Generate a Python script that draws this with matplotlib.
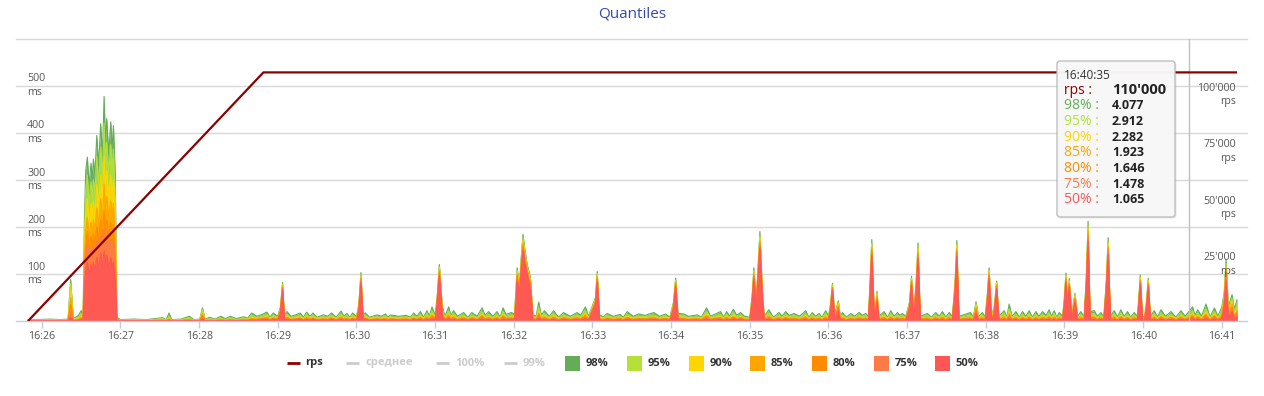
import matplotlib
matplotlib.use("Agg")
import matplotlib.pyplot as plt
from matplotlib.patches import FancyBboxPatch, Rectangle

plt.rcParams['font.family'] = ['Open Sans', 'DejaVu Sans']

# ---------------- data ----------------
# time in seconds after 16:26:00
t_sec = [
    -10.5, -2, 6, 14, 20, 22, 24, 28, 30, 31.5,
    32.5, 33.5, 34.7, 36, 37.5, 38.5, 39.3, 40.5, 41.9, 43.3, 44.9, 46.2, 47.5, 48.5, 49.5, 51, 52.6, 53.6, 54.6, 56,
    57.2, 60, 70, 80, 92, 95, 97, 99, 106, 112.6, 116, 120.5, 122.5, 124.5, 128, 132, 136.5, 140, 144, 148,
    154, 157, 160, 164, 168, 171.7, 174, 176.5, 180, 182, 183.6, 185, 187, 190, 193.5, 197, 199.5, 202, 204.5, 206.8,
    210, 214.7, 218, 221, 224.5, 228.2, 230.5, 232.7, 235, 237, 240, 241.8, 243.4, 245, 246.7, 250, 255.6, 259, 262, 264,
    265.8, 272, 278, 281, 283.6, 286, 288.7, 291, 293.8, 295.5, 297.6, 300, 301.5, 303.2, 305.5, 307.5, 310.3, 312, 314, 317,
    321.7, 325, 328, 332, 335.8, 338, 340.8, 344, 347.2, 349.5, 351.8, 354, 358, 360.5, 361.5, 362.5, 364.3, 365.5, 367, 368.5,
    370.2, 372.7, 374.5, 377, 379, 381, 383.3, 387, 390.4, 394, 398, 403, 408.3, 411, 414.6, 417, 422.3, 423.6, 425.3, 428,
    431.2, 436, 441, 443.5, 446.5, 451, 455.3, 460, 466.8, 471, 475.7, 479, 481.8, 483.4, 485.2, 489.7, 493, 500, 503, 507,
    510, 513, 517.7, 520, 522.3, 524.5, 527.4, 530, 533, 536, 540, 541.8, 543.1, 544.8, 546.2, 547.7, 549.5, 551, 554.5, 558,
    562.2, 564.5, 567.3, 570, 573.7, 578, 582.6, 585, 587.7, 590, 592.8, 595, 597.9, 600, 601.5, 603, 604.8, 607.5, 609, 610.6,
    613.5, 617, 620, 623.3, 626, 628.4, 630.5, 631.7, 633, 634.5, 635.7, 637, 638.5, 642.4, 645, 647.5, 650, 652.6, 654.5, 656.4,
    659, 661.8, 663.3, 665, 666.8, 668.3, 670, 675.5, 678.5, 681.8, 684.5, 686.9, 689.5, 692, 694.5, 696.5, 697.9, 699.5, 704, 708.2,
    710.5, 712.5, 714.5, 717.4, 719.5, 721, 722.5, 724, 725.5, 726.8, 728.2, 730, 734, 736, 737.8, 740, 742.9, 745.5, 748, 750.5,
    753.1, 755.5, 758.2, 760.5, 763.3, 766, 768.3, 770, 772.2, 774, 776, 778.5, 779.8, 781.1, 782.3, 783.6, 785.5, 788, 790, 792.5,
    795, 796.6, 798, 799.5, 802.7, 805, 807.8, 810, 811.8, 813.3, 815, 817.9, 820.5, 823, 825.5, 828.1, 830.5, 833.2, 835.5, 836.5,
    837.8, 839.5, 841, 842.5, 843.9, 845.5, 848.5, 851, 853.6, 857, 861.2, 865, 868.8, 872, 877.7, 879.5, 881.6, 884.5, 887.9, 891,
    894.3, 897, 900, 901.8, 903.2, 905, 907.8, 909.5, 911.6,
]

q98 = [
    2, 3, 4, 3, 4, 88, 5, 12, 22, 15,
    220, 320, 348, 290, 335, 300, 344, 310, 394, 330, 419, 350, 477, 380, 430, 355, 423, 365, 415, 310,
    8, 3, 4, 3, 7, 3, 17, 3, 4, 10, 3, 4, 28, 4, 8, 4, 10, 5, 10, 5,
    9, 6, 17, 10, 14, 19, 8, 17, 10, 30, 82, 14, 20, 10, 13, 17, 8, 19, 10, 17,
    8, 13, 10, 17, 8, 21, 10, 16, 8, 17, 10, 35, 103, 14, 17, 8, 13, 10, 15, 8,
    13, 10, 12, 8, 17, 10, 20, 8, 22, 10, 30, 12, 50, 120, 30, 10, 30, 12, 22, 10,
    18, 8, 18, 10, 28, 12, 20, 10, 20, 8, 28, 14, 18, 15, 60, 113, 75, 130, 184, 150,
    120, 92, 14, 10, 40, 12, 22, 10, 22, 8, 18, 10, 18, 12, 30, 10, 50, 105, 14, 8,
    16, 10, 14, 8, 20, 10, 15, 12, 18, 10, 15, 8, 40, 91, 16, 15, 10, 13, 8, 28,
    10, 14, 20, 8, 20, 10, 25, 12, 18, 10, 8, 55, 113, 40, 110, 190, 70, 10, 24, 8,
    18, 10, 20, 12, 16, 10, 22, 8, 18, 10, 16, 8, 22, 10, 35, 80, 14, 43, 10, 18,
    8, 16, 10, 18, 12, 16, 10, 80, 173, 50, 20, 63, 10, 20, 8, 22, 10, 18, 12, 16,
    10, 40, 95, 20, 80, 166, 10, 16, 8, 18, 10, 20, 8, 18, 10, 80, 171, 10, 14, 18,
    8, 41, 10, 18, 8, 50, 113, 30, 10, 40, 85, 10, 22, 8, 36, 10, 20, 8, 20, 10,
    22, 8, 20, 10, 20, 12, 24, 10, 22, 8, 18, 10, 45, 102, 40, 90, 15, 59, 10, 20,
    8, 90, 212, 20, 22, 10, 18, 8, 80, 177, 10, 22, 8, 24, 10, 20, 8, 18, 10, 40,
    98, 10, 8, 40, 91, 10, 22, 8, 24, 10, 20, 8, 22, 10, 30, 12, 24, 10, 36, 8,
    28, 10, 30, 60, 130, 30, 56, 25, 45,
]

q95 = [
    1.5, 2, 3, 2, 3, 80, 4, 8, 15, 10,
    180, 280, 310, 250, 295, 260, 300, 270, 350, 290, 370, 305, 420, 335, 380, 315, 375, 320, 365, 260,
    6, 2, 3, 2, 5, 2, 10, 2, 3, 7, 2, 3, 24, 3, 5, 3, 6, 3, 7, 3,
    6, 4, 12, 7, 10, 14, 6, 12, 7, 28, 79, 10, 14, 7, 9, 12, 6, 14, 7, 12,
    6, 9, 7, 12, 6, 15, 7, 12, 6, 12, 7, 33, 99, 10, 12, 6, 9, 7, 11, 6,
    9, 7, 9, 6, 12, 7, 14, 6, 16, 7, 22, 9, 47, 115, 24, 7, 22, 9, 16, 7,
    13, 6, 13, 7, 20, 9, 14, 7, 14, 6, 20, 10, 13, 11, 55, 108, 72, 125, 177, 144,
    116, 88, 10, 7, 29, 9, 16, 7, 16, 6, 13, 7, 13, 9, 22, 7, 47, 101, 10, 6,
    12, 7, 10, 6, 14, 7, 11, 9, 13, 7, 11, 6, 37, 87, 12, 11, 7, 9, 6, 20,
    7, 10, 14, 6, 14, 7, 18, 9, 13, 7, 6, 52, 108, 37, 105, 182, 66, 7, 17, 6,
    13, 7, 14, 9, 12, 7, 16, 6, 13, 7, 12, 6, 16, 7, 33, 77, 10, 40, 7, 13,
    6, 12, 7, 13, 9, 12, 7, 77, 166, 47, 14, 60, 7, 14, 6, 16, 7, 13, 9, 12,
    7, 37, 91, 14, 77, 159, 7, 12, 6, 13, 7, 14, 6, 13, 7, 77, 164, 7, 10, 13,
    6, 37, 7, 13, 6, 47, 108, 26, 7, 37, 82, 7, 16, 6, 26, 7, 14, 6, 14, 7,
    16, 6, 14, 7, 14, 9, 17, 7, 16, 6, 13, 7, 42, 98, 38, 86, 11, 56, 7, 14,
    6, 86, 204, 14, 16, 7, 13, 6, 77, 170, 7, 16, 6, 17, 7, 14, 6, 13, 7, 37,
    94, 7, 6, 37, 87, 7, 16, 6, 17, 7, 14, 6, 16, 7, 22, 9, 17, 7, 26, 6,
    20, 7, 22, 55, 122, 22, 48, 18, 36,
]

q90 = [
    1, 1.5, 2, 1.5, 2, 65, 3, 5, 10, 8,
    150, 235, 260, 210, 250, 220, 255, 225, 290, 245, 310, 260, 350, 280, 320, 265, 310, 270, 300, 210,
    5, 1.5, 2, 1.5, 3, 1.5, 6, 1.5, 2, 4, 1.5, 2, 20, 2, 3, 2, 4, 2, 4, 2,
    4, 3, 8, 5, 7, 10, 4, 9, 5, 26, 76, 7, 10, 5, 7, 9, 4, 10, 5, 9,
    4, 7, 5, 9, 4, 11, 5, 8, 4, 9, 5, 31, 96, 7, 9, 4, 7, 5, 8, 4,
    7, 5, 6, 4, 9, 5, 10, 4, 11, 5, 16, 6, 45, 112, 20, 5, 16, 6, 11, 5,
    9, 4, 9, 5, 15, 6, 10, 5, 10, 4, 15, 7, 9, 8, 50, 104, 70, 120, 171, 139,
    112, 84, 7, 5, 21, 6, 11, 5, 11, 4, 9, 5, 9, 6, 16, 5, 45, 98, 7, 4,
    8, 5, 7, 4, 10, 5, 8, 6, 9, 5, 8, 4, 35, 85, 8, 8, 5, 7, 4, 15,
    5, 7, 10, 4, 10, 5, 13, 6, 9, 5, 4, 49, 105, 35, 102, 177, 62, 5, 12, 4,
    9, 5, 10, 6, 8, 5, 11, 4, 9, 5, 8, 4, 11, 5, 31, 74, 7, 36, 5, 9,
    4, 8, 5, 9, 6, 8, 5, 74, 161, 44, 10, 56, 5, 10, 4, 11, 5, 9, 6, 8,
    5, 35, 88, 10, 74, 154, 5, 8, 4, 9, 5, 10, 4, 9, 5, 74, 159, 5, 7, 9,
    4, 33, 5, 9, 4, 45, 105, 23, 5, 35, 79, 5, 11, 4, 19, 5, 10, 4, 10, 5,
    11, 4, 10, 5, 10, 6, 12, 5, 11, 4, 9, 5, 40, 95, 36, 84, 8, 53, 5, 10,
    4, 83, 197, 10, 11, 5, 9, 4, 74, 165, 5, 11, 4, 12, 5, 10, 4, 9, 5, 35,
    91, 5, 4, 35, 85, 5, 11, 4, 12, 5, 10, 4, 11, 5, 16, 6, 12, 5, 19, 4,
    15, 5, 16, 50, 115, 16, 42, 13, 28,
]

q85 = [
    1, 1, 1.5, 1, 1.5, 50, 2, 4, 8, 6,
    125, 195, 220, 180, 210, 185, 215, 190, 240, 205, 260, 215, 290, 235, 265, 220, 255, 225, 250, 170,
    4, 1, 1.5, 1, 2, 1, 4, 1, 1.5, 3, 1, 1.5, 16, 1.5, 2, 1.5, 3, 1.5, 3, 1.5,
    3, 2, 6, 4, 6, 8, 3, 7, 4, 24, 74, 6, 8, 4, 5, 7, 3, 8, 4, 7,
    3, 5, 4, 7, 3, 9, 4, 7, 3, 7, 4, 29, 93, 6, 7, 3, 5, 4, 6, 3,
    5, 4, 5, 3, 7, 4, 8, 3, 9, 4, 13, 5, 43, 108, 17, 4, 13, 5, 9, 4,
    8, 3, 8, 4, 12, 5, 8, 4, 8, 3, 12, 6, 8, 6, 46, 100, 68, 116, 166, 135,
    108, 80, 6, 4, 17, 5, 9, 4, 9, 3, 8, 4, 8, 5, 13, 4, 43, 95, 6, 3,
    7, 4, 6, 3, 8, 4, 6, 5, 8, 4, 6, 3, 33, 82, 7, 6, 4, 5, 3, 12,
    4, 6, 8, 3, 8, 4, 10, 5, 8, 4, 3, 47, 102, 33, 98, 171, 58, 4, 10, 3,
    8, 4, 8, 5, 7, 4, 9, 3, 8, 4, 7, 3, 9, 4, 29, 72, 6, 33, 4, 8,
    3, 7, 4, 8, 5, 7, 4, 71, 156, 41, 8, 53, 4, 8, 3, 9, 4, 8, 5, 7,
    4, 33, 86, 8, 71, 149, 4, 7, 3, 8, 4, 8, 3, 8, 4, 71, 154, 4, 6, 8,
    3, 29, 4, 8, 3, 43, 102, 20, 4, 33, 77, 4, 9, 3, 15, 4, 8, 3, 8, 4,
    9, 3, 8, 4, 8, 5, 10, 4, 9, 3, 8, 4, 38, 92, 34, 81, 6, 50, 4, 8,
    3, 80, 191, 8, 9, 4, 8, 3, 71, 159, 4, 9, 3, 10, 4, 8, 3, 8, 4, 33,
    88, 4, 3, 33, 82, 4, 9, 3, 10, 4, 8, 3, 9, 4, 13, 5, 10, 4, 15, 3,
    12, 4, 13, 46, 108, 13, 36, 10, 22,
]

q80 = [
    1, 1, 1, 1, 1, 35, 1.5, 3, 6, 5,
    105, 165, 190, 155, 180, 160, 185, 165, 200, 175, 215, 180, 235, 195, 215, 185, 210, 190, 205, 140,
    3, 1, 1, 1, 1.5, 1, 3, 1, 1, 2, 1, 1, 12, 1, 1.5, 1, 2, 1, 2, 1,
    2, 1.5, 4, 3, 5, 6, 2.5, 6, 3, 22, 71, 5, 7, 3, 4, 6, 2.5, 6, 3, 6,
    2.5, 4, 3, 6, 2.5, 7, 3, 5, 2.5, 6, 3, 27, 90, 5, 6, 2.5, 4, 3, 5, 2.5,
    4, 3, 4, 2.5, 6, 3, 7, 2.5, 7, 3, 10, 4, 41, 104, 14, 3, 10, 4, 7, 3,
    6, 2.5, 6, 3, 10, 4, 7, 3, 7, 2.5, 10, 5, 6, 5, 42, 96, 66, 112, 160, 130,
    105, 76, 5, 3, 14, 4, 7, 3, 7, 2.5, 6, 3, 6, 4, 10, 3, 41, 91, 5, 2.5,
    5, 3, 5, 2.5, 7, 3, 5, 4, 6, 3, 5, 2.5, 31, 79, 5, 5, 3, 4, 2.5, 10,
    3, 5, 7, 2.5, 7, 3, 8, 4, 6, 3, 2.5, 45, 98, 31, 95, 165, 55, 3, 8, 2.5,
    6, 3, 7, 4, 5, 3, 7, 2.5, 6, 3, 5, 2.5, 7, 3, 27, 70, 5, 30, 3, 6,
    2.5, 5, 3, 6, 4, 5, 3, 68, 150, 38, 7, 50, 3, 7, 2.5, 7, 3, 6, 4, 5,
    3, 31, 83, 7, 68, 144, 3, 5, 2.5, 6, 3, 7, 2.5, 6, 3, 68, 149, 3, 5, 6,
    2.5, 25, 3, 6, 2.5, 41, 98, 18, 3, 31, 74, 3, 7, 2.5, 12, 3, 7, 2.5, 7, 3,
    7, 2.5, 7, 3, 7, 4, 8, 3, 7, 2.5, 6, 3, 36, 89, 32, 78, 5, 47, 3, 7,
    2.5, 77, 184, 7, 7, 3, 6, 2.5, 68, 154, 3, 7, 2.5, 8, 3, 7, 2.5, 6, 3, 31,
    85, 3, 2.5, 31, 79, 3, 7, 2.5, 8, 3, 7, 2.5, 7, 3, 10, 4, 8, 3, 12, 2.5,
    10, 3, 10, 42, 100, 10, 30, 8, 18,
]

q75 = [
    0.5, 1, 1, 1, 1, 22, 1, 2, 5, 4,
    95, 145, 165, 135, 155, 140, 160, 145, 170, 150, 180, 155, 195, 170, 180, 160, 175, 160, 170, 120,
    2, 1, 1, 1, 1, 1, 2, 1, 1, 1.5, 1, 1, 9, 1, 1, 1, 1.5, 1, 1.5, 1,
    1.5, 1, 3, 2.5, 4, 5, 2, 5, 2.5, 20, 69, 4, 5, 2.5, 4, 5, 2, 5, 2.5, 5,
    2, 4, 2.5, 5, 2, 6, 2.5, 4, 2, 5, 2.5, 25, 87, 4, 5, 2, 4, 2.5, 4, 2,
    4, 2.5, 3, 2, 5, 2.5, 5, 2, 6, 2.5, 8, 3, 39, 101, 12, 2.5, 8, 3, 6, 2.5,
    5, 2, 5, 2.5, 8, 3, 5, 2.5, 5, 2, 8, 4, 5, 4, 38, 92, 64, 108, 155, 126,
    102, 72, 4, 2.5, 11, 3, 6, 2.5, 6, 2, 5, 2.5, 5, 3, 8, 2.5, 39, 88, 4, 2,
    4, 2.5, 4, 2, 5, 2.5, 4, 3, 5, 2.5, 4, 2, 29, 76, 4, 4, 2.5, 4, 2, 8,
    2.5, 4, 5, 2, 5, 2.5, 7, 3, 5, 2.5, 2, 43, 95, 29, 92, 160, 52, 2.5, 6, 2,
    5, 2.5, 5, 3, 4, 2.5, 6, 2, 5, 2.5, 4, 2, 6, 2.5, 25, 67, 4, 27, 2.5, 5,
    2, 4, 2.5, 5, 3, 4, 2.5, 65, 145, 35, 5, 47, 2.5, 5, 2, 6, 2.5, 5, 3, 4,
    2.5, 29, 80, 5, 65, 139, 2.5, 4, 2, 5, 2.5, 5, 2, 5, 2.5, 65, 144, 2.5, 4, 5,
    2, 22, 2.5, 5, 2, 39, 95, 16, 2.5, 29, 71, 2.5, 6, 2, 10, 2.5, 5, 2, 5, 2.5,
    6, 2, 5, 2.5, 5, 3, 6, 2.5, 6, 2, 5, 2.5, 34, 86, 30, 76, 4, 45, 2.5, 5,
    2, 74, 178, 5, 6, 2.5, 5, 2, 65, 149, 2.5, 6, 2, 6, 2.5, 5, 2, 5, 2.5, 29,
    82, 2.5, 2, 29, 76, 2.5, 6, 2, 6, 2.5, 5, 2, 6, 2.5, 8, 3, 6, 2.5, 10, 2,
    8, 2.5, 8, 38, 95, 8, 26, 7, 14,
]

q50 = [
    0.5, 0.5, 0.5, 0.5, 0.5, 8, 0.5, 1, 3, 2,
    75, 110, 125, 100, 120, 105, 125, 105, 135, 110, 145, 115, 150, 125, 140, 115, 135, 115, 125, 85,
    1, 0.5, 0.5, 0.5, 0.5, 0.5, 1, 0.5, 0.5, 1, 0.5, 0.5, 4, 0.5, 0.5, 0.5, 1, 0.5, 1, 0.5,
    1, 0.5, 1.5, 1.5, 2, 3, 1, 3, 1.5, 18, 66, 2, 3, 1.5, 2, 3, 1, 3, 1.5, 3,
    1, 2, 1.5, 3, 1, 3, 1.5, 2, 1, 3, 1.5, 22, 82, 2, 3, 1, 2, 1.5, 2, 1,
    2, 1.5, 2, 1, 3, 1.5, 3, 1, 3, 1.5, 5, 2, 36, 96, 8, 1.5, 5, 2, 3, 1.5,
    3, 1, 3, 1.5, 4, 2, 3, 1.5, 3, 1, 4, 2, 3, 2, 32, 85, 60, 102, 150, 120,
    98, 65, 3, 1.5, 6, 2, 3, 1.5, 3, 1, 3, 1.5, 3, 2, 5, 1.5, 36, 84, 2, 1,
    2, 1.5, 2, 1, 3, 1.5, 2, 2, 3, 1.5, 2, 1, 26, 73, 2, 2, 1.5, 2, 1, 4,
    1.5, 2, 3, 1, 3, 1.5, 4, 2, 3, 1.5, 1, 40, 90, 26, 88, 155, 47, 1.5, 4, 1,
    3, 1.5, 3, 2, 2, 1.5, 3, 1, 3, 1.5, 2, 1, 3, 1.5, 22, 64, 2, 22, 1.5, 3,
    1, 2, 1.5, 3, 2, 2, 1.5, 60, 140, 30, 3, 42, 1.5, 3, 1, 3, 1.5, 3, 2, 2,
    1.5, 26, 76, 3, 60, 133, 1.5, 2, 1, 3, 1.5, 3, 1, 3, 1.5, 60, 137, 1.5, 2, 3,
    1, 16, 1.5, 3, 1, 36, 90, 12, 1.5, 26, 68, 1.5, 3, 1, 5, 1.5, 3, 1, 3, 1.5,
    3, 1, 3, 1.5, 3, 2, 4, 1.5, 3, 1, 3, 1.5, 30, 82, 27, 72, 2, 40, 1.5, 3,
    1, 70, 170, 3, 3, 1.5, 3, 1, 60, 142, 1.5, 3, 1, 4, 1.5, 3, 1, 3, 1.5, 26,
    78, 1.5, 1, 26, 73, 1.5, 3, 1, 4, 1.5, 3, 1, 3, 1.5, 5, 2, 4, 1.5, 5, 1,
    4, 1.5, 5, 32, 85, 5, 20, 4, 10,
]

rps_t = [-10.5, 169, 911.6]
rps_v = [0, 110000, 110000]

tick_sec = [0, 60, 120, 180, 240, 300, 360, 420, 480, 540, 600, 660, 720, 780, 840, 900]
tick_labels = ["16:26", "16:27", "16:28", "16:29", "16:30", "16:31", "16:32", "16:33",
               "16:34", "16:35", "16:36", "16:37", "16:38", "16:39", "16:40", "16:41"]
grid_ms = [100, 200, 300, 400, 500, 600]
ms_labels = [100, 200, 300, 400, 500]
rps_labels = [25000, 50000, 75000, 100000]

series_names = ["98%", "95%", "90%", "85%", "80%", "75%", "50%"]
series_colors = ["#62AD55", "#B5E03A", "#FFD500", "#FFA500", "#FF8C00", "#FF7A48", "#FF5555"]
series_vals = [q98, q95, q90, q85, q80, q75, q50]
disabled_names = ["среднее", "100%", "99%"]

tooltip_time = "16:40:35"
tooltip_sec = 875
tooltip_rps = "110'000"
tooltip_vals = ["4.077", "2.912", "2.282", "1.923", "1.646", "1.478", "1.065"]

for s in series_vals:
    assert len(s) == len(t_sec), (len(s), len(t_sec))

# ---------------- layout ----------------
W, H = 1264, 396
fig = plt.figure(figsize=(W / 100, H / 100), dpi=100)
L, R, T, B = 16, 1247, 38.5, 321
ax = fig.add_axes([L / W, (H - B) / H, (R - L) / W, (B - T) / H])
YMAX, RMAX = 600, 125000
X0, X1 = -19.7, 919.2
ax.set_xlim(X0, X1)
ax.set_ylim(0, YMAX)
for s in ["top", "left", "right"]:
    ax.spines[s].set_visible(False)
ax.spines["bottom"].set_color("#C0D0E0")
ax.spines["bottom"].set_linewidth(1)
ax.set_yticks([])
ax.set_xticks(tick_sec)
ax.set_xticklabels(tick_labels)
ax.tick_params(axis="x", length=5, width=1, color="#C0D0E0", labelcolor="#555555",
               labelsize=7.7, pad=2.5)
for g in grid_ms:
    ax.axhline(g, color="#D8D8D8", lw=1, zorder=0, clip_on=False)

for vals, col in zip(series_vals, series_colors):
    ax.fill_between(t_sec, 0, vals, color=col, alpha=0.88, lw=0, zorder=2)
    ax.plot(t_sec, vals, color=col, lw=0.8, zorder=2)

xl = (27.3 - L) / (R - L)
for v in ms_labels:
    ax.text(xl, v, f"{v}\nms", transform=ax.get_yaxis_transform(), ha="left", va="center",
            fontsize=7.7, color="#555555", linespacing=1.3, zorder=6)

ax2 = ax.twinx()
ax2.set_xlim(X0, X1)
ax2.set_ylim(0, RMAX)
ax2.set_yticks([])
for s in ax2.spines.values():
    s.set_visible(False)
ax2.axvline(tooltip_sec, color="#C0C0C0", lw=1, zorder=1)
ax2.plot(rps_t, rps_v, color="#8B0000", lw=1.6, zorder=3, solid_capstyle="butt")
xr = (1236 - L) / (R - L)
for v in rps_labels:
    ax2.text(xr, v, f"{v:,}".replace(",", "'") + "\nrps", transform=ax2.get_yaxis_transform(),
             ha="right", va="center", fontsize=7.7, color="#555555", linespacing=1.3, zorder=6)

# overlay in pixel coordinates for title, tooltip and legend
ov = fig.add_axes([0, 0, 1, 1])
ov.set_xlim(0, W)
ov.set_ylim(H, 0)
ov.axis("off")

ov.text(632, 14, "Quantiles", ha="center", va="center", fontsize=11, color="#3448B4")

# tooltip
bx, by, bw, bh = 1057, 61, 118, 156
ov.add_patch(FancyBboxPatch((bx + 1.5, by + 1.5), bw, bh, boxstyle="round,pad=0,rounding_size=3",
                            fc="#000000", ec="none", alpha=0.10, zorder=8))
ov.add_patch(FancyBboxPatch((bx, by), bw, bh, boxstyle="round,pad=0,rounding_size=3",
                            fc="#F8F8F8", ec="#BDBDBD", lw=1, alpha=0.97, zorder=9))
ov.text(1064, 75.5, tooltip_time, fontsize=8.5, color="#333333", va="center", zorder=10)
row_y0, row_dy = 90, 15.7
ov.text(1064, row_y0, "rps :", fontsize=10, color="#8B0000", va="center", zorder=10)
ov.text(1112, row_y0, tooltip_rps, fontsize=10.5, color="#222222", va="center",
        fontweight="bold", zorder=10)
for i, (n, c, v) in enumerate(zip(series_names, series_colors, tooltip_vals)):
    y = row_y0 + (i + 1) * row_dy
    ov.text(1064, y, n + " :", fontsize=10, color=c, va="center", zorder=10)
    ov.text(1112, y, v, fontsize=9, color="#222222", va="center", fontweight="bold", zorder=10)

# legend
ly = 363
line_items = [("rps", "#8B0000", "#333333", 287)] + \
    [(n, "#CCCCCC", "#CCCCCC", x) for n, x in zip(disabled_names, [346, 436, 504])]
for name, lc, tc, x in line_items:
    ov.plot([x, x + 13], [ly, ly], color=lc, lw=2, solid_capstyle="butt")
    ov.text(x + 19 if name != "rps" else x + 18, ly, name, fontsize=8, fontweight="bold",
            color=tc, va="center", ha="left")
sq_x = [565, 627, 689, 750, 812, 873.5, 935]
for name, col, x in zip(series_names, series_colors, sq_x):
    ov.add_patch(Rectangle((x, ly - 7.5), 15, 15, fc=col, ec="none"))
    ov.text(x + 21, ly, name, fontsize=8, fontweight="bold", color="#333333",
            va="center", ha="left")

fig.savefig("out.png", dpi=100)
